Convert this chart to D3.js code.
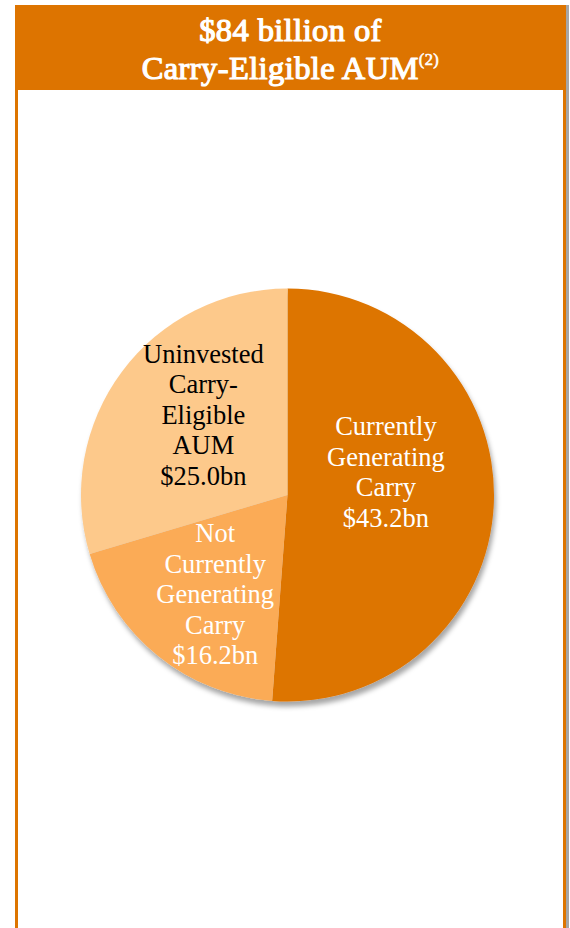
<!DOCTYPE html>
<html>
<head>
<meta charset="utf-8">
<script src="https://cdn.jsdelivr.net/npm/d3@7"></script>
<style>
  html, body { margin: 0; padding: 0; background: #ffffff; }
  svg { display: block; }
</style>
</head>
<body>
<div id="chart"></div>
<script>
// ---- Data ----
const categories = ["Currently Generating Carry", "Not Currently Generating Carry", "Uninvested Carry-Eligible AUM"];
const values = [43.2, 16.2, 25.0];
const labelLines = [
  ["Currently", "Generating", "Carry"],
  ["Not", "Currently", "Generating", "Carry"],
  ["Uninvested", "Carry-", "Eligible", "AUM"]
];
const titleLines = ["$84 billion of", "Carry-Eligible AUM"];
const titleNote = "(2)";

// ---- Styles / layout ----
const W = 570, H = 928;
const orange = "#DD7400";
const colors = ["#DD7400", "#FBAB57", "#FDC98B"];
const textColors = ["#ffffff", "#ffffff", "#000000"];
const font = "'Liberation Serif', 'Times New Roman', Tinos, serif";

const svg = d3.select("#chart").append("svg").attr("width", W).attr("height", H);
const defs = svg.append("defs");
const sh = defs.append("filter").attr("id", "pieShadow")
  .attr("x", "-10%").attr("y", "-10%").attr("width", "125%").attr("height", "125%");
sh.append("feDropShadow").attr("dx", 2).attr("dy", 5).attr("stdDeviation", 2.5)
  .attr("flood-color", "#000").attr("flood-opacity", 0.35);
const fsh = defs.append("filter").attr("id", "frameShadow")
  .attr("x", "-5%").attr("y", "-5%").attr("width", "110%").attr("height", "110%");
fsh.append("feDropShadow").attr("dx", 3).attr("dy", 0).attr("stdDeviation", 0.6)
  .attr("flood-color", "#000").attr("flood-opacity", 0.35);

// Frame
const frameX = 15, frameY = 5, frameW = 551;
svg.append("rect")
  .attr("x", frameX + 1.5).attr("y", frameY + 1.5)
  .attr("width", frameW - 3).attr("height", H + 50)
  .attr("fill", "#ffffff").attr("stroke", orange).attr("stroke-width", 3)
  .attr("filter", "url(#frameShadow)");
svg.append("rect")
  .attr("x", frameX).attr("y", frameY).attr("width", frameW).attr("height", 85)
  .attr("fill", orange);

// Title (serif, emboldened with a thin stroke so the serif face is kept)
const cx = frameX + frameW / 2;
const title = svg.append("text")
  .attr("text-anchor", "middle")
  .attr("font-family", font).attr("font-weight", "normal")
  .attr("font-size", 32.5).attr("letter-spacing", 0.4).attr("fill", "#ffffff")
  .attr("stroke", "#ffffff").attr("stroke-width", 1.2).attr("stroke-linejoin", "round");
title.append("tspan").attr("x", cx).attr("y", 41).text(titleLines[0]);
const t2 = title.append("tspan").attr("x", cx).attr("y", 79);
t2.append("tspan").text(titleLines[1]);
t2.append("tspan").attr("font-size", 16.5).attr("stroke-width", 0.6).attr("dy", -14).text(titleNote);

// Pie
const pcx = 287.5, pcy = 495, r = 206.5;
const pie = d3.pie().sort(null).value(d => d)
  .startAngle(0).endAngle(2 * Math.PI);
const arcs = pie(values);
const arc = d3.arc().innerRadius(0).outerRadius(r);

const g = svg.append("g").attr("transform", `translate(${pcx},${pcy})`);
g.append("g").attr("filter", "url(#pieShadow)")
  .selectAll("path").data(arcs).join("path")
  .attr("d", arc)
  .attr("fill", (d, i) => colors[i]);

// Labels: placed along a polar anchor inside each slice
const labelPolar = [
  { angle: 77 * Math.PI / 180, dist: 101 },
  { angle: 216 * Math.PI / 180, dist: 123 },
  { angle: 313.5 * Math.PI / 180, dist: 116 }
];
const lineH = 30.5;
const fmt = v => "$" + d3.format(".1f")(v) + "bn";
arcs.forEach((d, i) => {
  const lines = labelLines[i].concat([fmt(values[i])]);
  const p = labelPolar[i];
  const lx = Math.sin(p.angle) * p.dist;
  const ly = -Math.cos(p.angle) * p.dist;
  const top = ly - (lines.length - 1) * lineH / 2;
  const t = g.append("text")
    .attr("text-anchor", "middle")
    .attr("font-family", font).attr("font-size", 26.5)
    .attr("fill", textColors[i]);
  lines.forEach((ln, k) => {
    t.append("tspan").attr("x", lx).attr("y", top + k * lineH).attr("dy", "0.33em").text(ln);
  });
});
</script>
</body>
</html>
